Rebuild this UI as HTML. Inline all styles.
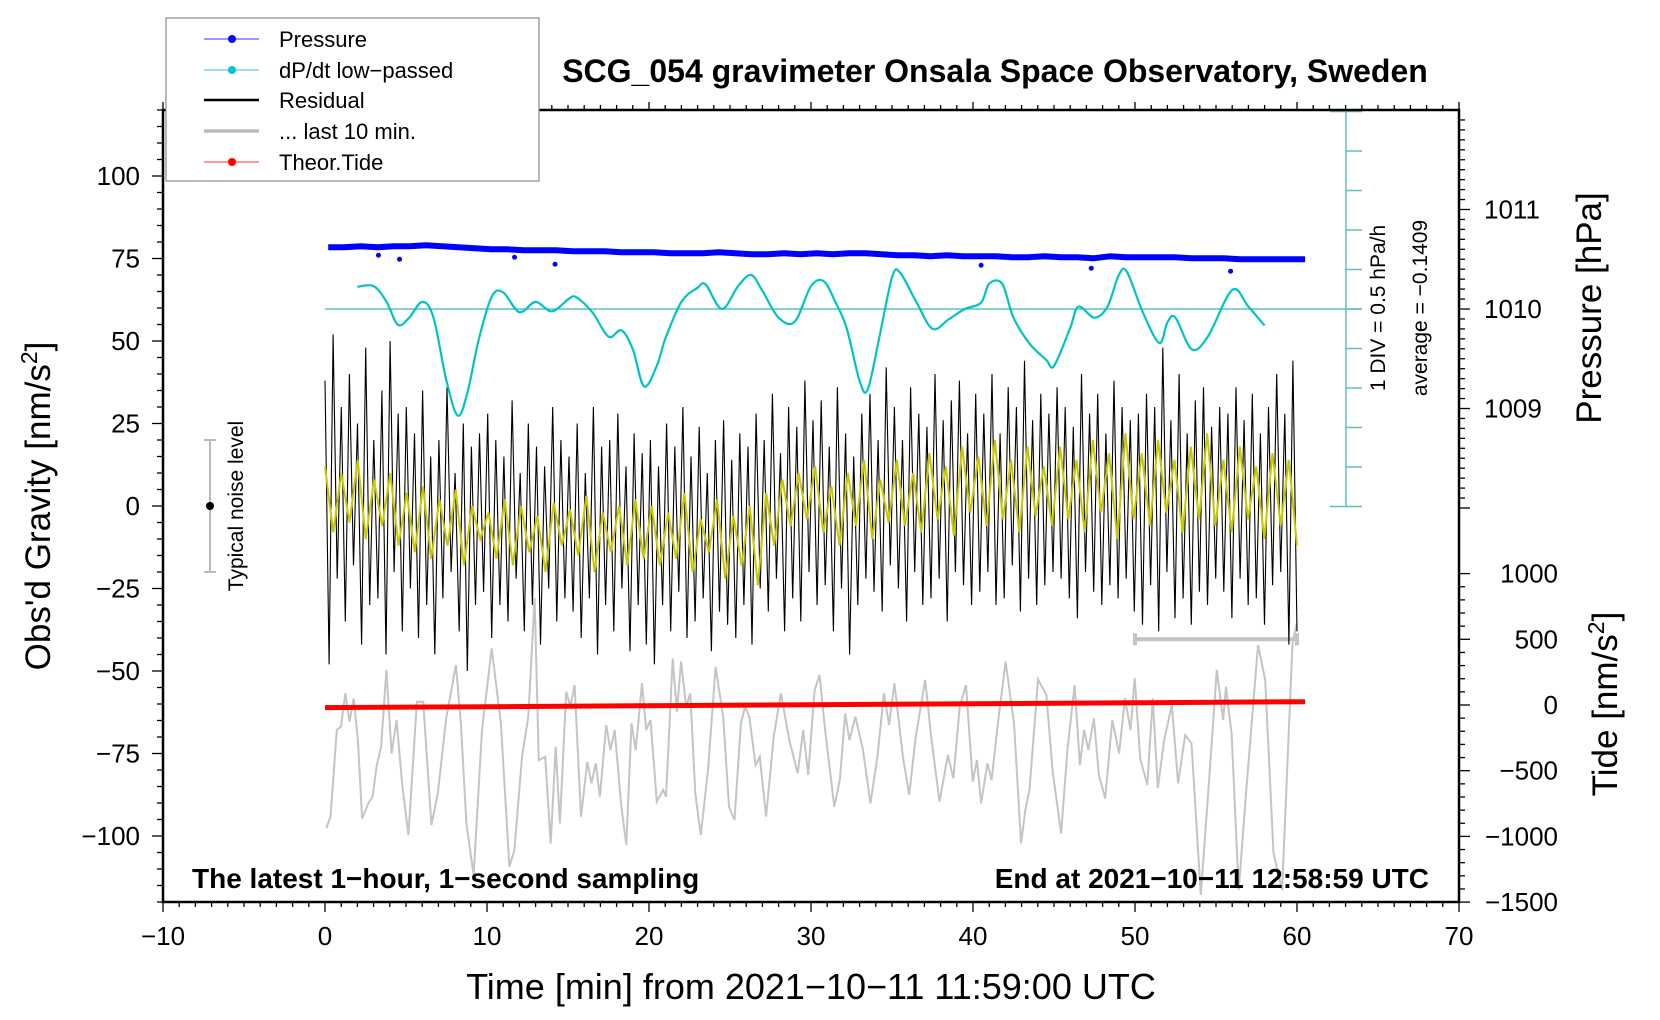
<!DOCTYPE html>
<html><head><meta charset="utf-8"><style>
html,body{margin:0;padding:0;background:#fff;}
svg{display:block;font-family:"Liberation Sans",Arial,sans-serif;}
</style></head><body>
<svg id="chart" width="1660" height="1020" viewBox="0 0 1660 1020" xmlns="http://www.w3.org/2000/svg">
<rect x="0" y="0" width="1660" height="1020" fill="#fff"/>
<g id="marks"></g>
<g id="axes"></g>
<text x="995" y="82" font-size="32" font-weight="bold" text-anchor="middle">SCG_054 gravimeter Onsala Space Observatory, Sweden</text>
<text x="811" y="999" font-size="36" text-anchor="middle">Time [min] from 2021−10−11 11:59:00 UTC</text>
<text transform="translate(50,506) rotate(-90)" font-size="35" text-anchor="middle">Obs'd Gravity [nm/s<tspan font-size="23" dy="-13">2</tspan><tspan dy="13">]</tspan></text>
<text transform="translate(1601,308) rotate(-90)" font-size="35" text-anchor="middle">Pressure [hPa]</text>
<text transform="translate(1617,704) rotate(-90)" font-size="35" text-anchor="middle">Tide [nm/s<tspan font-size="23" dy="-13">2</tspan><tspan dy="13">]</tspan></text>
<text transform="translate(1385,308) rotate(-90)" font-size="21" text-anchor="middle">1 DIV = 0.5 hPa/h</text>
<text transform="translate(1427,308) rotate(-90)" font-size="21" text-anchor="middle">average = −0.1409</text>
<text x="192" y="888" font-size="28" font-weight="bold">The latest 1−hour, 1−second sampling</text>
<text x="1429" y="888" font-size="28" font-weight="bold" text-anchor="end">End at 2021−10−11 12:58:59 UTC</text>
<text transform="translate(243,506) rotate(-90)" font-size="21" text-anchor="middle">Typical noise level</text>
<g>
<rect x="166" y="18" width="373" height="163" fill="#fff" stroke="#888" stroke-width="1.2"/>
<line x1="204" y1="39" x2="259" y2="39" stroke="#3030ff" stroke-width="1"/><circle cx="232" cy="39" r="4" fill="#0000ff"/>
<text x="279" y="47" font-size="22">Pressure</text>
<line x1="204" y1="70" x2="259" y2="70" stroke="#30c8c8" stroke-width="1"/><circle cx="232" cy="70" r="4" fill="#00c8c8"/>
<text x="279" y="78" font-size="22">dP/dt low−passed</text>
<line x1="204" y1="100" x2="259" y2="100" stroke="#000" stroke-width="2.5"/>
<text x="279" y="108" font-size="22">Residual</text>
<line x1="204" y1="131" x2="259" y2="131" stroke="#bbb" stroke-width="3.5"/>
<text x="279" y="139" font-size="22">... last 10 min.</text>
<line x1="204" y1="162" x2="259" y2="162" stroke="#ff3030" stroke-width="1"/><circle cx="232" cy="162" r="4" fill="#ff0000"/>
<text x="279" y="170" font-size="22">Theor.Tide</text>
</g>
</svg>
<script>
// ---- data ----
const pressureVals = [1010.62,1010.62,1010.63,1010.62,1010.63,1010.63,1010.64,1010.63,1010.62,1010.61,1010.60,
1010.60,1010.59,1010.59,1010.59,1010.58,1010.58,1010.58,1010.57,1010.57,1010.57,
1010.56,1010.56,1010.56,1010.57,1010.56,1010.55,1010.55,1010.56,1010.55,1010.56,
1010.55,1010.56,1010.56,1010.55,1010.54,1010.54,1010.53,1010.54,1010.53,1010.53,
1010.53,1010.52,1010.52,1010.53,1010.52,1010.52,1010.51,1010.53,1010.52,1010.52,
1010.52,1010.52,1010.51,1010.51,1010.51,1010.50,1010.50,1010.50,1010.50,1010.50];
const pressOutT = [3.3,4.6,11.7,14.2,40.5,47.3,55.9];
const pressOutV = [1010.54,1010.50,1010.52,1010.45,1010.44,1010.41,1010.38];
const dpdtT = [2.0,3.0,3.8,4.5,5.2,6.0,6.7,7.5,8.2,8.8,9.5,10.3,11.0,12.0,13.0,14.0,15.0,15.5,16.5,17.5,18.3,19.0,19.7,20.5,21.0,22.0,23.0,23.5,24.5,25.5,26.3,27.0,28.0,29.0,30.0,30.8,31.5,32.2,33.0,33.5,34.2,35.0,35.5,36.5,37.5,38.5,39.5,40.5,41.0,41.8,42.5,43.5,44.5,45.0,46.0,46.5,47.5,48.3,49.0,49.5,50.5,51.5,52.0,52.5,53.5,54.5,56.0,57.0,58.0];
const dpdtV = [0.28,0.29,0.09,-0.20,-0.11,0.09,-0.11,-0.91,-1.35,-1.05,-0.38,0.16,0.21,-0.04,0.09,-0.03,0.12,0.15,-0.04,-0.35,-0.27,-0.51,-0.98,-0.71,-0.38,0.09,0.27,0.31,0,0.29,0.43,0.23,-0.11,-0.16,0.29,0.35,0.09,-0.24,-0.91,-1.02,-0.38,0.40,0.46,0.09,-0.25,-0.13,0,0.08,0.32,0.32,-0.11,-0.44,-0.64,-0.72,-0.24,0.03,-0.11,0.03,0.43,0.47,-0.05,-0.43,-0.17,-0.11,-0.51,-0.35,0.24,0.03,-0.21];
const residualVals = [38,-48,52,-22,30,-35,40,-18,25,-42,48,-30,20,-28,35,-45,50,-20,28,-38,
30,-25,22,-40,35,-30,15,-45,20,-28,36,-20,10,-38,25,-50,18,-30,22,-26,
28,-40,20,-30,15,-35,32,-22,10,-38,25,-30,18,-42,12,-25,30,-35,20,-28,
15,-32,25,-40,10,-28,30,-45,18,-30,20,-38,28,-25,12,-44,22,-30,16,-42,
20,-48,12,-30,25,-38,18,-26,30,-40,15,-35,24,-28,10,-44,20,-32,26,-36,
14,-40,22,-30,18,-42,28,-25,20,-32,34,-22,16,-38,30,-28,24,-35,38,-20,
26,-30,32,-24,18,-38,36,-25,22,-45,15,-30,28,-22,34,-26,20,-32,42,-18,
30,-25,20,-35,36,-20,28,-30,24,-28,40,-22,26,-35,32,-20,38,-24,22,-30,
34,-26,28,-20,40,-30,22,-28,36,-18,30,-32,44,-22,26,-30,34,-24,28,-20,
36,-22,30,-28,24,-34,40,-20,28,-26,34,-30,22,-24,38,-28,30,-22,26,-32,
28,-36,34,-24,30,-38,48,-20,26,-34,40,-28,22,-36,32,-26,36,-30,24,-22,
30,-26,28,-34,36,-22,26,-30,34,-28,22,-36,30,-24,40,-20,28,-42,44,-38];
const smoothVals = [12,-8,10,-5,14,-10,8,-6,10,-12, 4,-14,6,-16,2,-12,5,-18,0,-10,
-2,-16,2,-18,0,-14,-3,-20,1,-12, -1,-15,3,-20,-2,-14,0,-18,2,-16,
0,-18,-2,-16,4,-20,-4,-14,2,-22, -3,-18,0,-24,4,-12,8,-6,10,-4,
12,-8,6,-12,10,-6,14,-10,8,-5, 14,-6,10,-8,16,-4,12,-9,18,-2,
15,-6,20,-4,14,-8,18,-3,12,-6, 18,-4,14,-8,20,-2,16,-10,22,-4,
16,-6,20,-2,14,-8,18,-4,22,-6, 14,-8,18,-4,12,-10,16,-6,14,-12];
const lastT = [0.08,0.34,0.73,0.99,1.25,1.51,1.77,2.03,2.29,2.68,2.94,3.20,3.46,3.79,4.11,4.42,4.76,5.15,5.67,6.06,6.57,6.96,7.48,8.08,8.39,8.73,9.17,9.69,10.29,10.86,11.38,11.69,12.16,12.55,12.94,13.20,13.59,13.93,14.24,14.50,14.89,15.15,15.41,15.80,16.19,16.45,16.71,16.97,17.36,17.62,17.88,18.27,18.60,18.92,19.18,19.57,19.83,20.09,20.48,20.87,21.05,21.46,21.72,21.98,22.29,22.55,22.86,23.20,23.64,24.11,24.58,24.94,25.28,25.67,25.93,26.19,26.58,26.84,27.23,27.70,28.14,28.66,29.18,29.52,29.83,30.22,30.53,30.87,31.44,31.78,32.11,32.37,32.74,33.21,33.67,34.11,34.50,34.82,35.15,35.67,36.06,36.45,37.05,37.41,37.93,38.45,38.79,39.18,39.57,39.98,40.24,40.50,40.89,41.15,41.54,42.01,42.53,42.97,43.23,43.49,44.01,44.53,44.92,45.44,45.83,46.27,46.60,46.86,47.12,47.46,47.77,48.16,48.60,49.02,49.38,49.72,49.98,50.32,50.76,51.10,51.41,51.80,52.27,52.66,53.10,53.49,54.06,54.53,55.05,55.44,55.62,55.96,56.40,56.87,57.59,58.04,58.55,59.08,59.72,59.98];
const lastV = [-939,-850,-190,-165,89,-127,50,-267,-863,-749,-698,-457,-317,266,-368,-114,-596,-990,25,25,-914,-673,-102,304,-140,-901,-1294,-190,431,-140,-1231,-1104,-394,-89,812,-419,-394,-1053,-317,-901,101,-13,152,-850,-432,-596,-444,-698,-152,-343,-190,-749,-1066,-140,-343,165,-190,-114,-736,-647,-698,355,-51,330,-13,89,-673,-990,-495,291,-89,-774,-876,-140,-13,-89,-457,-394,-850,-241,89,-267,-520,-190,-533,114,228,-190,-774,-571,-64,-267,-89,-343,-749,-381,89,-152,165,-394,-685,-254,190,-229,-736,-381,-558,-13,152,-584,-419,-749,-444,-571,-140,330,-140,-1053,-799,-647,195,76,-508,-977,-343,152,-457,-190,-343,-102,-533,-711,-114,-368,50,-190,203,-406,-609,50,-634,-267,0,-596,-229,-292,-1446,-647,266,-114,139,-216,-1408,-647,456,190,-1129,-1408,469,621];
const tideT = [0,10,20,30,40,50,60.5];
const tideV = [-20,-13,-5,2,9,17,25];
const xTicks = [-10,0,10,20,30,40,50,60,70];
const gTicks = [-100,-75,-50,-25,0,25,50,75,100];
const pTicks = [1009,1010,1011];
const tTicks = [-1500,-1000,-500,0,500,1000];

// ---- scales ----
const X = m => 163 + (m + 10) * 16.2;
const Yg = g => 506 - g * 3.3;
const Yp = p => 309 - (p - 1010) * 99.5;
const Yt = t => 705 - t / 500 * 65.7;
const Yd = v => 309 - v / 0.5 * 39.5;

const NS = 'http://www.w3.org/2000/svg';
const marks = document.getElementById('marks');
const axes = document.getElementById('axes');
function mk(tag, parent, attrs) {
  const e = document.createElementNS(NS, tag);
  for (const k in attrs) e.setAttribute(k, attrs[k]);
  parent.appendChild(e);
  return e;
}
function smoothPath(pts) {
  let d = 'M' + pts[0][0].toFixed(1) + ',' + pts[0][1].toFixed(1);
  for (let i = 0; i < pts.length - 1; i++) {
    const p0 = pts[Math.max(0, i - 1)], p1 = pts[i], p2 = pts[i + 1], p3 = pts[Math.min(pts.length - 1, i + 2)];
    const c1x = p1[0] + (p2[0] - p0[0]) / 6, c1y = p1[1] + (p2[1] - p0[1]) / 6;
    const c2x = p2[0] - (p3[0] - p1[0]) / 6, c2y = p2[1] - (p3[1] - p1[1]) / 6;
    d += ' C' + c1x.toFixed(1) + ',' + c1y.toFixed(1) + ' ' + c2x.toFixed(1) + ',' + c2y.toFixed(1) + ' ' + p2[0].toFixed(1) + ',' + p2[1].toFixed(1);
  }
  return d;
}

let el = mk('line', marks, {x1: X(0), y1: 309, x2: 1362, y2: 309, stroke: '#5fc0c0', 'stroke-width': 1.5});


el = mk('line', marks, {x1: 1346, y1: 110, x2: 1346, y2: 506, stroke: '#5fc0c0', 'stroke-width': 1.5});


for (let k = -5; k <= 5; k++) {
  const y = 309 + k * 39.5;
  const t = mk('line', marks, {x1: Math.abs(k) === 5 ? 1330 : 1346, y1: y, x2: 1362, y2: y, stroke: '#5fc0c0', 'stroke-width': 1.5});
  
  
}

el = mk('polyline', marks, {points: lastT.map((t, i) => X(t).toFixed(1) + ',' + Yt(lastV[i]).toFixed(1)).join(' '), fill: 'none', stroke: '#c4c4c4', 'stroke-width': 2});


el = mk('path', marks, {d: 'M' + X(50) + ',' + Yt(500) + ' H' + X(60) + ' M' + X(50) + ',' + (Yt(500) - 6) + ' v12 M' + X(60) + ',' + (Yt(500) - 6) + ' v12', stroke: '#c4c4c4', 'stroke-width': 4, fill: 'none'});



el = mk('polyline', marks, {points: residualVals.map((v, i) => X(i * 60 / (residualVals.length - 1)).toFixed(1) + ',' + Yg(v).toFixed(1)).join(' '), fill: 'none', stroke: '#000', 'stroke-width': 1.1});


el = mk('polyline', marks, {points: smoothVals.map((v, i) => X(i * 60 / (smoothVals.length - 1)).toFixed(1) + ',' + Yg(v).toFixed(1)).join(' '), fill: 'none', stroke: '#c8c800', 'stroke-width': 2});



el = mk('polyline', marks, {points: tideT.map((t, i) => X(t).toFixed(1) + ',' + Yt(tideV[i]).toFixed(1)).join(' '), fill: 'none', stroke: '#ff0000', 'stroke-width': 5});



el = mk('polyline', marks, {points: pressureVals.map((p, i) => X(i * 60.3 / (pressureVals.length - 1) + 0.2).toFixed(1) + ',' + Yp(p).toFixed(1)).join(' '), fill: 'none', stroke: '#0000ff', 'stroke-width': 6, 'stroke-linejoin': 'round'});


pressOutT.forEach((t, i) => {
  const c = mk('circle', marks, {cx: X(t), cy: Yp(pressOutV[i]), r: 2.5, fill: '#0000ff'});
  
  
});

el = mk('path', marks, {d: smoothPath(dpdtT.map((t, i) => [X(t), Yd(dpdtV[i])])), fill: 'none', stroke: '#00c4c4', 'stroke-width': 2.2});



el = mk('path', marks, {d: 'M210,' + Yg(20) + ' V' + Yg(-20) + ' M204,' + Yg(20) + ' h12 M204,' + Yg(-20) + ' h12', stroke: '#bbb', 'stroke-width': 2, fill: 'none'});


el = mk('circle', marks, {cx: 210, cy: Yg(0), r: 4, fill: '#000'});



el = mk('path', axes, {d: 'M163,110 H1459 V902 H163 Z', fill: 'none', stroke: '#000', 'stroke-width': 2.5});



for (let m = -10; m <= 70; m++) {
  const major = m % 10 === 0;
  const t = mk('line', axes, {x1: X(m), y1: 902, x2: X(m), y2: 902 + (major ? 10 : 5), stroke: '#000', 'stroke-width': 1.3});
  
  
  const u = mk('line', axes, {x1: X(m), y1: 110, x2: X(m), y2: 110 - (major ? 8 : 5), stroke: '#000', 'stroke-width': 1.3});
  
  
}
xTicks.forEach(v => {
  const t = mk('text', axes, {x: X(v), y: 945, 'font-size': 26, 'text-anchor': 'middle'});
  t.textContent = String(v).replace('-', '−');
  
  
});
for (let g = -120; g <= 120; g += 5) {
  const major = g % 25 === 0;
  const t = mk('line', axes, {x1: 163 - (major ? 11 : 6), y1: Yg(g), x2: 163, y2: Yg(g), stroke: '#000', 'stroke-width': 1.3});
  
  
}
gTicks.forEach(v => {
  const t = mk('text', axes, {x: 140, y: Yg(v) + 9, 'font-size': 26, 'text-anchor': 'end'});
  t.textContent = String(v).replace('-', '−');
  
  
});
for (let i = 0; i <= 39; i++) {
  const p = 1011.9 - i * 0.1;
  const major = Math.abs(p - Math.round(p)) < 0.01;
  const t = mk('line', axes, {x1: 1459, y1: Yp(p), x2: 1459 + (major ? 11 : 6), y2: Yp(p), stroke: '#000', 'stroke-width': 1.3});
  
  
}
pTicks.forEach(v => {
  const t = mk('text', axes, {x: 1484, y: Yp(v) + 9, 'font-size': 26});
  t.textContent = String(v);
  
  
});
for (let v = -1500; v <= 1000; v += 100) {
  const major = v % 500 === 0;
  const t = mk('line', axes, {x1: 1459, y1: Yt(v), x2: 1459 + (major ? 11 : 6), y2: Yt(v), stroke: '#000', 'stroke-width': 1.3});
  
  
}
tTicks.forEach(v => {
  const t = mk('text', axes, {x: 1558, y: Yt(v) + 9, 'font-size': 26, 'text-anchor': 'end'});
  t.textContent = String(v).replace('-', '−');
  
  
});
</script>
</body></html>
